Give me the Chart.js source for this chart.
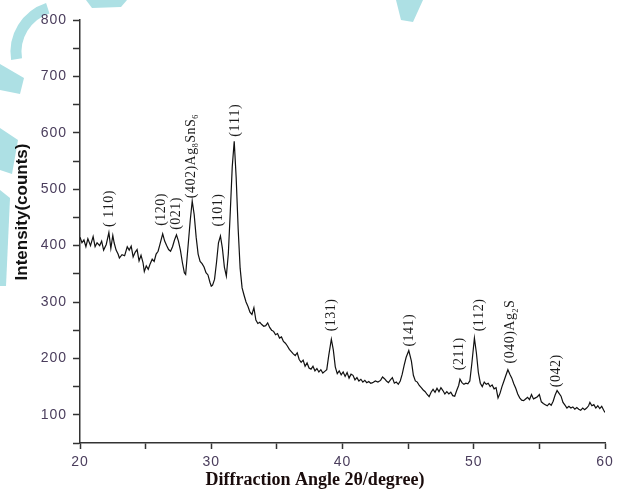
<!DOCTYPE html>
<html>
<head>
<meta charset="utf-8">
<script src="https://cdn.jsdelivr.net/npm/chart.js@4.4.1/dist/chart.umd.min.js"></script>
<style>
  body { margin: 0; background: #fff; }
  #wrap { width: 621px; height: 490px; }
</style>
</head>
<body>
<div id="wrap"><canvas id="xrd" width="621" height="490"></canvas></div>
<script>
// 2theta (degree)
const angle = [20.0, 20.15, 20.3, 20.45, 20.6, 20.8, 21.0, 21.15, 21.3, 21.5, 21.65, 21.8, 22.0, 22.2, 22.35, 22.5, 22.6, 22.75, 22.9, 23.0,
  23.2, 23.4, 23.6, 23.75, 23.9, 24.05, 24.2, 24.35, 24.5, 24.65, 24.8, 24.9, 25.05, 25.2, 25.35, 25.5, 25.65, 25.8, 25.95, 26.1,
  26.3, 26.45, 26.6, 26.75, 26.9, 27.05, 27.2, 27.35, 27.5, 27.65, 27.8, 27.95, 28.05, 28.2, 28.4, 28.55, 28.7, 28.85, 29.0, 29.15,
  29.3, 29.45, 29.6, 29.75, 29.9, 30.0, 30.1, 30.25, 30.4, 30.55, 30.7, 30.85, 31.0, 31.15, 31.3, 31.45, 31.6, 31.75, 31.9, 32.05,
  32.2, 32.35, 32.5, 32.65, 32.8, 32.95, 33.1, 33.25, 33.4, 33.55, 33.7, 33.85, 34.0, 34.15, 34.3, 34.45, 34.6, 34.75, 34.9, 35.05,
  35.2, 35.35, 35.5, 35.65, 35.8, 35.95, 36.1, 36.25, 36.4, 36.55, 36.7, 36.85, 37.0, 37.15, 37.3, 37.45, 37.6, 37.75, 37.9, 38.05,
  38.2, 38.35, 38.5, 38.65, 38.8, 38.95, 39.15, 39.3, 39.45, 39.6, 39.75, 39.9, 40.05, 40.2, 40.35, 40.5, 40.65, 40.8, 40.95, 41.1,
  41.25, 41.4, 41.55, 41.7, 41.85, 42.0, 42.15, 42.3, 42.5, 42.7, 42.9, 43.05, 43.2, 43.35, 43.5, 43.65, 43.8, 43.95, 44.1, 44.25,
  44.4, 44.55, 44.7, 44.85, 45.05, 45.25, 45.4, 45.55, 45.7, 45.85, 46.0, 46.15, 46.3, 46.45, 46.6, 46.75, 46.9, 47.05, 47.2, 47.35,
  47.5, 47.65, 47.8, 47.95, 48.1, 48.25, 48.4, 48.55, 48.7, 48.85, 48.95, 49.1, 49.25, 49.4, 49.55, 49.7, 49.85, 50.05, 50.2, 50.35,
  50.5, 50.65, 50.8, 50.95, 51.1, 51.25, 51.4, 51.55, 51.7, 51.85, 52.0, 52.15, 52.3, 52.45, 52.6, 52.75, 52.9, 53.05, 53.2, 53.35,
  53.5, 53.65, 53.8, 53.95, 54.1, 54.25, 54.4, 54.55, 54.7, 54.85, 55.0, 55.15, 55.3, 55.45, 55.6, 55.75, 55.9, 56.05, 56.2, 56.35,
  56.5, 56.65, 56.8, 56.95, 57.1, 57.25, 57.4, 57.55, 57.7, 57.85, 58.0, 58.15, 58.3, 58.45, 58.6, 58.75, 58.85, 59.0, 59.15, 59.3,
  59.45, 59.6, 59.75, 59.9, 60.0];
// intensity (counts)
const counts = [415, 405, 410, 398, 412, 400, 416, 398, 405, 400, 408, 392, 402, 423, 395, 418, 405, 392, 385, 378,
  384, 382, 398, 392, 399, 380, 388, 393, 373, 383, 370, 354, 364, 358, 368, 376, 372, 385, 390, 403,
  421, 408, 400, 393, 390, 398, 410, 419, 408, 392, 370, 352, 349, 390, 445, 479, 455, 415, 385, 372,
  368, 362, 352, 348, 335, 328, 330, 340, 370, 405, 417, 395, 362, 346, 385, 460, 540, 585, 520, 430,
  360, 325, 312, 300, 292, 282, 278, 290, 268, 262, 264, 260, 257, 258, 263, 255, 250, 248, 242, 244,
  236, 238, 230, 227, 222, 216, 212, 208, 205, 210, 198, 193, 197, 186, 192, 183, 181, 186, 178, 182,
  176, 180, 174, 177, 180, 205, 234, 215, 185, 173, 178, 171, 176, 168, 175, 165, 172, 170, 162, 166,
  160, 163, 158, 161, 157, 159, 156, 157, 160, 158, 161, 167, 164, 160, 157, 162, 166, 156, 158, 154,
  160, 172, 188, 202, 214, 195, 170, 160, 158, 152, 148, 144, 141, 136, 132, 140, 145, 140, 147, 141,
  148, 143, 137, 141, 137, 140, 134, 133, 143, 152, 163, 157, 154, 156, 155, 160, 190, 236, 210, 175,
  156, 150, 158, 154, 156, 150, 153, 146, 148, 130, 138, 150, 160, 170, 180, 172, 165, 155, 147, 137,
  130, 126, 125, 128, 131, 127, 136, 128, 130, 132, 136, 123, 120, 118, 116, 120, 117, 124, 135, 143,
  138, 133, 122, 117, 112, 115, 112, 114, 110, 113, 110, 108, 112, 109, 112, 116, 122, 116, 118, 112,
  116, 111, 115, 108, 104];

// peak labels ('_' = next char subscript), angle and the count where the text starts
const peakText = ['( 110)', '(120)', '(021)', '(402)Ag_8SnS_6', '(101)', '(111)', '(131)', '(141)', '(211)', '(112)', '(040)Ag_2S', '(042)'];
const peakAngle = [22.2, 26.2, 27.35, 28.45, 30.55, 31.8, 39.15, 45.1, 48.9, 50.4, 52.8, 56.3];
const peakBase = [433, 435, 428, 484, 434, 593, 248, 221, 179, 248, 191, 149];

const xTicks = [20, 30, 40, 50, 60];
const yTicks = [100, 200, 300, 400, 500, 600, 700, 800];

const tickColor = '#4a3d5c';
const axisColor = '#333';

// licht blauwe vormen op de achtergrond
const backdrop = {
  id: 'backdrop',
  beforeDraw(chart) {
    const c = chart.ctx;
    c.save();
    c.fillStyle = '#ffffff';
    c.fillRect(0, 0, chart.width, chart.height);
    c.strokeStyle = '#ade0e4';
    c.lineWidth = 11;
    c.beginPath();
    c.arc(62, 52, 46, Math.PI * 0.95, Math.PI * 1.4);
    c.stroke();
    c.fillStyle = '#ade0e4';
    const polys = [
      [[86, 0], [127, 0], [121, 7], [92, 8]],
      [[396, 0], [423, 0], [413, 22], [401, 20]],
      [[0, 64], [24, 78], [20, 94], [0, 90]],
      [[0, 128], [18, 140], [12, 174], [0, 170]],
      [[0, 190], [10, 198], [6, 286], [0, 286]]
    ];
    polys.forEach(p => {
      c.beginPath();
      c.moveTo(p[0][0], p[0][1]);
      p.slice(1).forEach(q => c.lineTo(q[0], q[1]));
      c.closePath();
      c.fill();
    });
    c.restore();
    chart.ctx.letterSpacing = '1px';
  }
};

function drawRich(c, txt, x, y) {
  let cx = x;
  for (let i = 0; i < txt.length; i++) {
    let ch = txt[i];
    if (ch === '_') {
      ch = txt[++i];
      c.font = '8px "Liberation Serif"';
      c.fillText(ch, cx, y + 5);
      cx += c.measureText(ch).width;
    } else {
      c.font = '14px "Liberation Serif"';
      c.fillText(ch, cx, y);
      cx += c.measureText(ch).width;
    }
  }
}

const annotate = {
  id: 'annotate',
  afterDraw(chart) {
    const c = chart.ctx;
    const xs = chart.scales.x, ys = chart.scales.y;
    c.save();
    c.letterSpacing = '0.5px';
    c.fillStyle = '#1c1c1c';
    c.textBaseline = 'middle';
    c.textAlign = 'left';
    peakText.forEach((t, i) => {
      c.save();
      c.translate(xs.getPixelForValue(peakAngle[i]), ys.getPixelForValue(peakBase[i]));
      c.rotate(-Math.PI / 2);
      drawRich(c, t, 0, 0);
      c.restore();
    });
    c.letterSpacing = '0px';
    // as titels
    c.textAlign = 'center';
    c.fillStyle = '#111';
    c.save();
    c.translate(22, 212);
    c.rotate(-Math.PI / 2);
    c.font = 'bold 17px "Liberation Sans"';
    c.fillText('Intensity(counts)', 0, 0);
    c.restore();
    c.fillStyle = '#1a0c0c';
    c.font = 'bold 18px "Liberation Serif"';
    c.fillText('Diffraction Angle 2\u03b8/degree)', 315, 480);
    c.restore();
  }
};

const ctx = document.getElementById('xrd').getContext('2d');
new Chart(ctx, {
  type: 'line',
  data: {
    datasets: [{
      data: angle.map((a, i) => ({ x: a, y: counts[i] })),
      borderColor: '#111',
      borderWidth: 1.2,
      pointRadius: 0,
      tension: 0,
      fill: false
    }]
  },
  options: {
    responsive: false,
    animation: false,
    events: [],
    layout: { padding: { left: 0, right: 16, top: 20, bottom: 0 } },
    plugins: { legend: { display: false }, tooltip: { enabled: false } },
    scales: {
      x: {
        type: 'linear',
        min: 20,
        max: 60,
        afterFit: s => { s.height = 47; },
        ticks: {
          stepSize: 5,
          autoSkip: false,
          maxRotation: 0,
          padding: 5,
          color: tickColor,
          font: { family: 'Liberation Sans', size: 14 },
          callback: v => xTicks.includes(v) ? v : ''
        },
        grid: { drawOnChartArea: false, tickLength: 6, color: axisColor, tickWidth: 1.5 },
        border: { color: axisColor, width: 1.5 }
      },
      y: {
        min: 50,
        max: 800,
        afterFit: s => { s.width = 80; },
        ticks: {
          stepSize: 50,
          autoSkip: false,
          padding: 6,
          color: tickColor,
          font: { family: 'Liberation Sans', size: 14 },
          callback: v => yTicks.includes(v) ? v : ''
        },
        grid: { drawOnChartArea: false, tickLength: 7, color: axisColor, tickWidth: 1.5 },
        border: { color: axisColor, width: 1.5 }
      }
    }
  },
  plugins: [backdrop, annotate]
});
</script>
</body>
</html>
